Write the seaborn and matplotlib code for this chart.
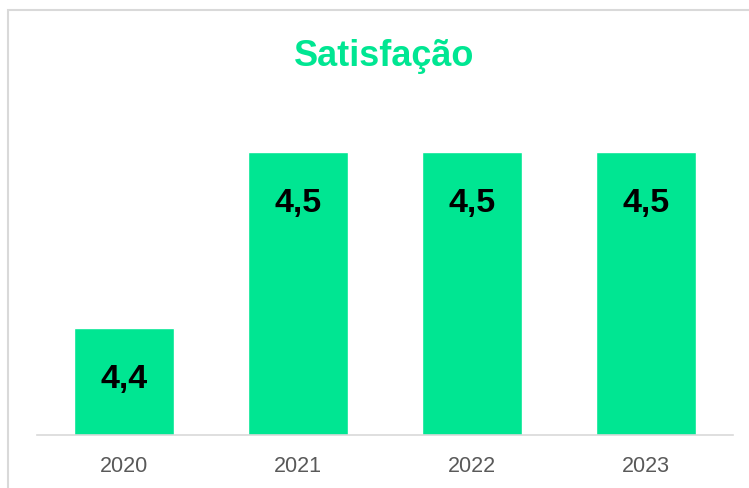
import matplotlib
matplotlib.use("Agg")
import matplotlib.pyplot as plt
import seaborn as sns
from matplotlib.patches import Rectangle

# dados
anos = ["2020", "2021", "2022", "2023"]
satisfacao = [4.4, 4.5, 4.5, 4.5]
rotulos = ["4,4", "4,5", "4,5", "4,5"]

VERDE = "#00E692"
CINZA = "#595959"

sns.set_theme(style="white")
plt.rcParams["font.family"] = ["Liberation Sans", "DejaVu Sans"]

W, H = 749, 488
fig = plt.figure(figsize=(W / 100, H / 100), dpi=100)

# área do eixo em pixels
left, right, bottom, top = 37, 733, 435, 100
ax = fig.add_axes([left / W, 1 - bottom / H, (right - left) / W, (bottom - top) / H])

sns.barplot(x=anos, y=satisfacao, color=VERDE, saturation=1, width=0.58, ax=ax)

ax.set_ylim(4.339, 4.5295)
ax.set_xlim(-0.5, 3.5)

for p, txt in zip(ax.patches, rotulos):
    ax.annotate(txt, (p.get_x() + p.get_width() / 2, p.get_height()),
                xytext=(0, -37), textcoords="offset points",
                ha="center", va="center", fontsize=24.5, fontweight="bold",
                color="black")

for s in ["left", "right", "top"]:
    ax.spines[s].set_visible(False)
ax.spines["bottom"].set_color("#d9d9d9")
ax.spines["bottom"].set_linewidth(1.2)
ax.set_yticks([])
ax.tick_params(axis="x", length=0, pad=15, labelsize=15.5, labelcolor=CINZA)
ax.set_xlabel("")
ax.set_ylabel("")

fig.text(384 / W, 1 - 57 / H, "Satisfação", ha="center", va="center",
         fontsize=26, fontweight="bold", color=VERDE)

# moldura do gráfico
fig.patches.append(Rectangle((8 / W, -0.1), 1.2, 1 - 10 / H + 0.1,
                             transform=fig.transFigure, fill=False,
                             edgecolor="#d9d9d9", linewidth=1.5))

fig.savefig("out.png", dpi=100)
